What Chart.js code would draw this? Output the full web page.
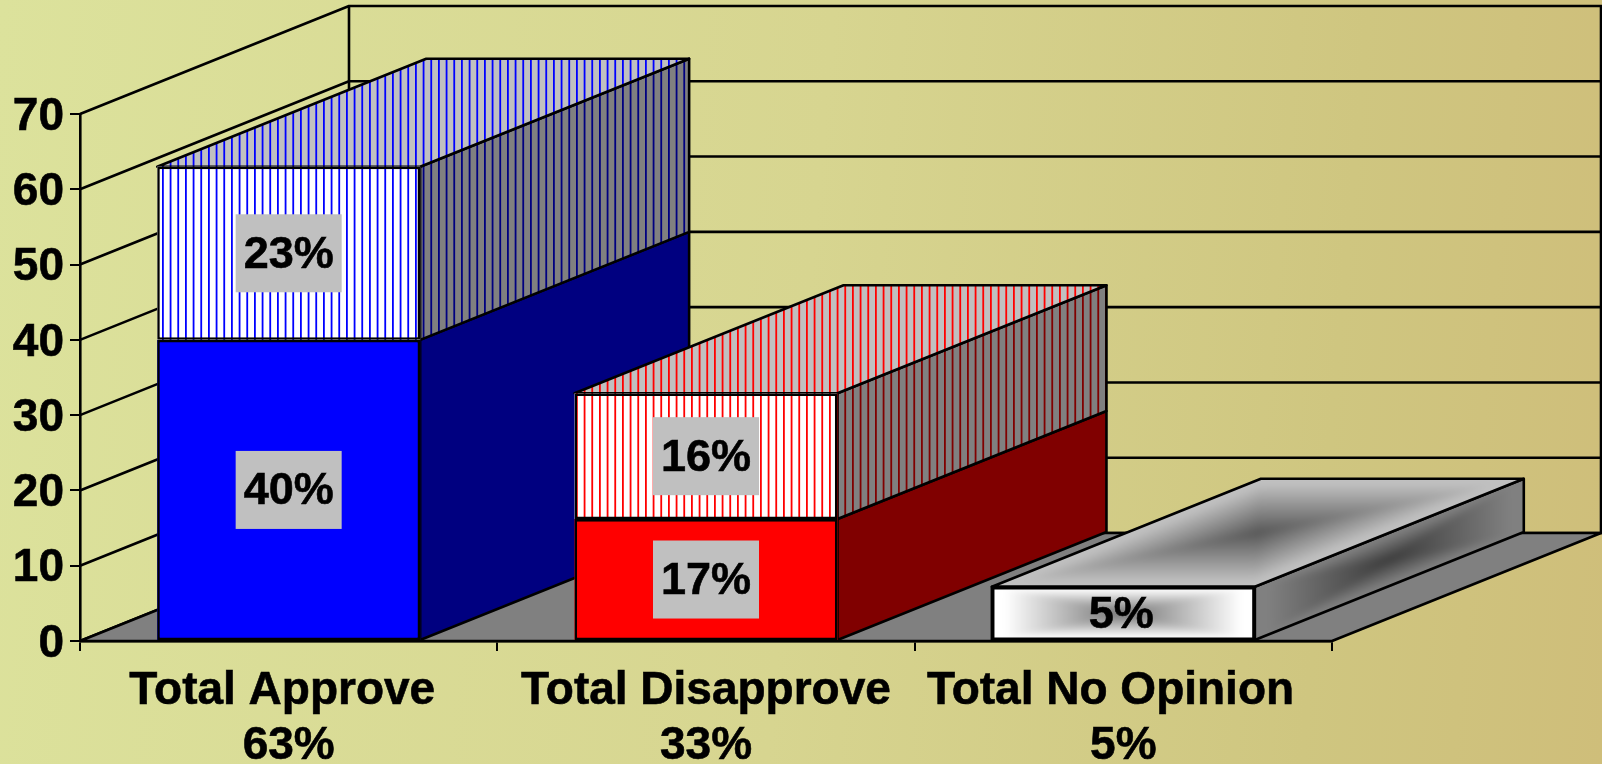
<!DOCTYPE html>
<html>
<head>
<meta charset="utf-8">
<title>Approve / Disapprove</title>
<script src="https://cdn.jsdelivr.net/npm/chart.js@4/dist/chart.umd.min.js"></script>
<style>
  html, body { margin: 0; padding: 0; width: 1602px; height: 764px; overflow: hidden; }
  body { background: linear-gradient(95deg, #dce29c 0%, #d7d590 50%, #cfc680 82%, #cfbe7a 100%); }
  canvas { display: block; }
</style>
</head>
<body>
<canvas id="grafico" width="1602" height="764"></canvas>
<script>
// datos
const categories = [['Total Approve ', '63%'], ['Total Disapprove', '33%'], ['Total No Opinion  ', '5%']];
const lowerValues = [40, 16.2, 7.2];
const upperValues = [23, 16.7, null];
const lowerLabels = ['40%', '17%', '5%'];
const upperLabels = ['23%', '16%', null];

const FONT_FAMILY = '"Liberation Sans", Arial, sans-serif';
const FONT_SIZE = 46;
const LINE = 2.6;
const DEPTH_X = 269;
const DEPTH_Y = 108;

// fondo del punto en la pared trasera
const back = (x, y) => [x + DEPTH_X, y - DEPTH_Y];

// franjas verticales, periodo de 7.67px
const stripes = (bg, line) => {
    const c = document.createElement('canvas');
    c.width = 23;
    c.height = 4;
    const g = c.getContext('2d');
    g.fillStyle = bg;
    g.fillRect(0, 0, 23, 4);
    g.fillStyle = line;
    [1, 8.67, 16.33].forEach((x) => g.fillRect(x, 0, 1.8, 4));
    return document.querySelector('#grafico').getContext('2d').createPattern(c, 'repeat');
};

const frontUpper = [stripes('#ffffff', '#0000ff'), stripes('#ffffff', '#ff0000'), 'rgba(0,0,0,0)'];
const frontLower = ['#0000ff', '#ff0000', 'rgba(0,0,0,0)'];
const sideUpper = [stripes('#808080', '#000080'), stripes('#808080', '#800000')];
const sideLower = ['#000080', '#800000'];
const topUpper = [stripes('#c0c0c0', '#0000ff'), stripes('#c0c0c0', '#ff0000')];

const tracePath = (ctx, pts) => {
    ctx.beginPath();
    pts.forEach((p, i) => (i ? ctx.lineTo(p[0], p[1]) : ctx.moveTo(p[0], p[1])));
    ctx.closePath();
};

const face = (ctx, pts, fill) => {
    tracePath(ctx, pts);
    ctx.fillStyle = fill;
    ctx.fill();
    ctx.stroke();
};

// degradado rectangular: cuatro triangulos hacia el centro, difuminados juntos
const boxGradient = (ctx, pts, edge, mid) => {
    const cx = pts.reduce((s, p) => s + p[0], 0) / 4;
    const cy = pts.reduce((s, p) => s + p[1], 0) / 4;
    const layer = document.createElement('canvas');
    layer.width = ctx.canvas.width;
    layer.height = ctx.canvas.height;
    const g = layer.getContext('2d');
    g.fillStyle = edge;
    g.fillRect(0, 0, layer.width, layer.height);
    pts.forEach((a, i) => {
        const b = pts[(i + 1) % 4];
        const ex = b[0] - a[0];
        const ey = b[1] - a[1];
        const t = ((cx - a[0]) * ex + (cy - a[1]) * ey) / (ex * ex + ey * ey);
        const grad = g.createLinearGradient(a[0] + t * ex, a[1] + t * ey, cx, cy);
        grad.addColorStop(0, edge);
        grad.addColorStop(0.1, edge);
        grad.addColorStop(1, mid);
        tracePath(g, [a, b, [cx, cy]]);
        g.fillStyle = grad;
        g.strokeStyle = grad;
        g.fill();
        g.stroke();
    });
    ctx.save();
    tracePath(ctx, pts);
    ctx.clip();
    ctx.filter = 'blur(3px)';
    ctx.drawImage(layer, 0, 0);
    ctx.restore();
    tracePath(ctx, pts);
    ctx.stroke();
};

// paredes, piso y caras laterales de las barras
const walls3d = {
    id: 'walls3d',
    beforeDatasetsDraw(chart) {
        const { ctx, chartArea: area, scales: { y } } = chart;
        ctx.save();
        ctx.strokeStyle = '#000';
        ctx.lineWidth = LINE;
        ctx.lineJoin = 'round';

        y.ticks.forEach((t) => {
            const py = y.getPixelForValue(t.value);
            const [bx, by] = back(area.left, py);
            ctx.beginPath();
            ctx.moveTo(area.left, py);
            ctx.lineTo(bx, by);
            ctx.lineTo(chart.width, by);
            ctx.stroke();
        });
        const top = back(area.left, area.top);
        const bottom = back(area.left, area.bottom);
        const topRight = back(area.right, area.top);
        const bottomRight = back(area.right, area.bottom);
        ctx.beginPath();
        ctx.moveTo(top[0], top[1]);
        ctx.lineTo(bottom[0], bottom[1]);
        ctx.moveTo(topRight[0], topRight[1]);
        ctx.lineTo(bottomRight[0], bottomRight[1]);
        ctx.stroke();

        face(ctx, [[area.left, area.bottom], [area.right, area.bottom], bottomRight, bottom], '#808080');

        const lower = chart.getDatasetMeta(0).data;
        const upper = chart.getDatasetMeta(1).data;
        lower.forEach((bar, i) => {
            const left = bar.x - bar.width / 2;
            const right = bar.x + bar.width / 2;
            const side = (y0, y1) => [[right, y0], back(right, y0), back(right, y1), [right, y1]];
            const roof = (yy) => [[left, yy], [right, yy], back(right, yy), back(left, yy)];

            if (upperValues[i] === null) {
                // la barra sin segundo tramo lleva degradado
                boxGradient(ctx, side(bar.y, bar.base), '#808080', '#3c3c3c');
                boxGradient(ctx, roof(bar.y), '#c0c0c0', '#585858');
                boxGradient(ctx, [[left, bar.y], [right, bar.y], [right, bar.base], [left, bar.base]], '#ffffff', '#727272');
                return;
            }
            face(ctx, side(bar.y, bar.base), sideLower[i]);
            face(ctx, side(upper[i].y, bar.y), sideUpper[i]);
            face(ctx, roof(upper[i].y), topUpper[i]);
            // el frente se pinta aqui para tapar la barra anterior en orden
            ctx.fillStyle = frontLower[i];
            ctx.fillRect(left, bar.y, bar.width, bar.base - bar.y);
            ctx.fillStyle = frontUpper[i];
            ctx.fillRect(left, upper[i].y, bar.width, bar.y - upper[i].y);
        });
        ctx.restore();
    },
    afterDatasetsDraw(chart) {
        const { ctx } = chart;
        ctx.save();
        ctx.font = `bold ${FONT_SIZE - 1}px ${FONT_FAMILY}`;
        ctx.textAlign = 'center';
        ctx.textBaseline = 'middle';
        ctx.strokeStyle = '#000';
        ctx.lineWidth = 0.6;
        const label = (bar, yTop, yBase, text, boxed) => {
            if (!text) return;
            const cy = (yTop + yBase) / 2;
            if (boxed) {
                ctx.fillStyle = '#c0c0c0';
                ctx.fillRect(bar.x - 53, cy - 39, 106, 78);
            }
            ctx.fillStyle = '#000';
            ctx.fillText(text, bar.x - (boxed ? 0 : 2), cy + 2);
            ctx.strokeText(text, bar.x - (boxed ? 0 : 2), cy + 2);
        };
        chart.getDatasetMeta(0).data.forEach((bar, i) => {
            label(bar, bar.y, bar.base, lowerLabels[i], upperValues[i] !== null);
            if (upperValues[i] !== null) {
                label(bar, chart.getDatasetMeta(1).data[i].y, bar.y, upperLabels[i], true);
            }
        });
        ctx.restore();
    }
};

const tickFont = { family: FONT_FAMILY, size: FONT_SIZE, weight: 'bold', lineHeight: '55px' };

new Chart(document.getElementById('grafico'), {
    type: 'bar',
    data: {
        labels: categories,
        datasets: [
            { data: lowerValues, backgroundColor: frontLower },
            { data: upperValues, backgroundColor: frontUpper }
        ]
    },
    options: {
        responsive: false,
        animation: false,
        events: [],
        layout: { padding: { left: 0, right: 270, top: 114, bottom: 0 } },
        datasets: {
            bar: {
                barPercentage: 0.63,
                categoryPercentage: 1,
                borderColor: '#000',
                borderWidth: LINE,
                borderSkipped: false
            }
        },
        plugins: { legend: { display: false }, tooltip: { enabled: false } },
        scales: {
            x: {
                stacked: true,
                afterFit: (s) => { s.height = 123; },
                border: { color: '#000', width: LINE },
                grid: { drawOnChartArea: false, color: '#000', tickLength: 10, lineWidth: 2 },
                ticks: {
                    color: '#000',
                    padding: 13,
                    maxRotation: 0,
                    autoSkip: false,
                    textStrokeColor: '#000',
                    textStrokeWidth: 0.6,
                    font: tickFont
                }
            },
            y: {
                stacked: true,
                min: 0,
                max: 70,
                afterFit: (s) => { s.width = 80; },
                border: { color: '#000', width: LINE },
                grid: { drawOnChartArea: false, color: '#000', tickLength: 10, lineWidth: 2 },
                ticks: {
                    stepSize: 10,
                    color: '#000',
                    padding: 6,
                    labelOffset: 3,
                    textStrokeColor: '#000',
                    textStrokeWidth: 0.6,
                    font: tickFont
                }
            }
        }
    },
    plugins: [walls3d]
});
</script>
</body>
</html>
